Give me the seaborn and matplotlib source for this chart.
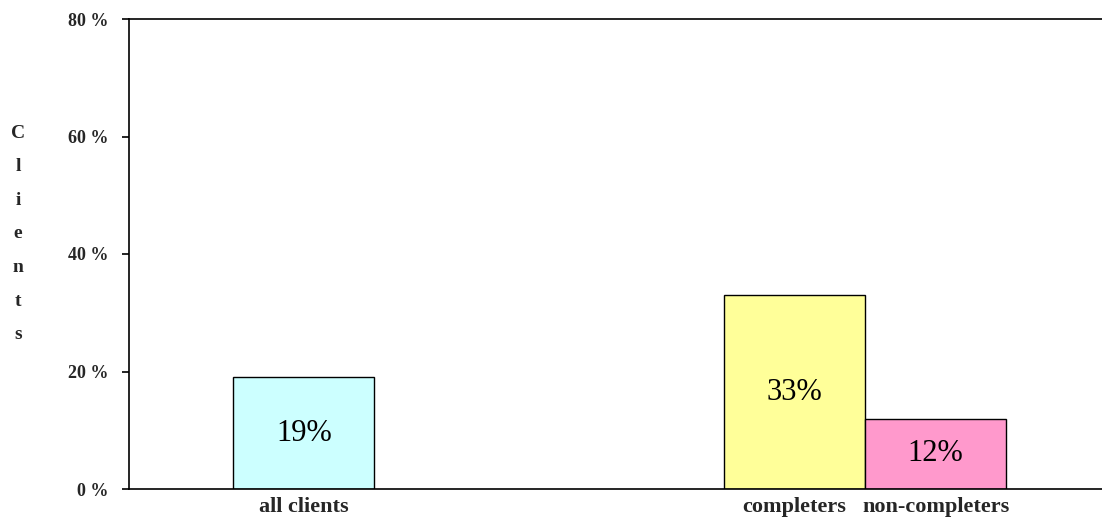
import matplotlib
matplotlib.use("Agg")
import matplotlib.pyplot as plt
import seaborn as sns
import pandas as pd

# Share of clients per group (percent)
categories = ["all clients", "completers", "non-completers"]
values = [19, 33, 12]
bar_colors = ["#CCFFFF", "#FFFF99", "#FF99CC"]
y_ticks = [0, 20, 40, 60, 80]
y_tick_labels = ["0 %", "20 %", "40 %", "60 %", "80 %"]
y_label = "Clients"

# Horizontal placement of the bars (one unit = one bar width)
positions = [1.24, 4.72, 5.72]

sns.set_style("white")
serif = ["Liberation Serif", "DejaVu Serif"]

fig = plt.figure(figsize=(11.02, 5.19), dpi=100)
ax = fig.add_axes([129 / 1102, 1 - 489 / 519, 1 - 129 / 1102, (489 - 19) / 519])

df = pd.DataFrame({"pos": positions, "value": values, "group": categories})
sns.barplot(data=df, x="pos", y="value", hue="group", hue_order=categories,
            palette=bar_colors, native_scale=True, width=1.0, dodge=False,
            edgecolor="black", linewidth=1.0, saturation=1.0, legend=False,
            ax=ax)

ax.set_xlim(0, 6.9)
ax.set_ylim(0, 80)

# Value labels inside the bars
for x, v in zip(positions, values):
    ax.text(x, v / 2, f"{v}%", ha="center", va="center",
            fontsize=22, family=serif, color="black")

# Y axis
ax.set_yticks(y_ticks)
ax.set_yticklabels(y_tick_labels, family=serif, fontweight="bold", fontsize=13)
ax.tick_params(axis="y", which="both", left=True, length=5, width=1.2,
               pad=10, direction="out", color="black")

# X axis category labels under the bars
ax.set_xticks(positions)
ax.set_xticklabels(categories, family=serif, fontweight="bold", fontsize=16)
ax.tick_params(axis="x", bottom=False, pad=2)
ax.set_xlabel("")
ax.set_ylabel("")

for side in ["left", "bottom", "top"]:
    ax.spines[side].set_visible(True)
    ax.spines[side].set_color("black")
    ax.spines[side].set_linewidth(1.2)
ax.spines["right"].set_visible(False)

# Vertical stacked axis title
fig.text(18 / 1102, 1 - 234 / 519, "\n".join(y_label), ha="center", va="center",
         family=serif, fontweight="bold", fontsize=14, linespacing=2.27)

fig.savefig("out.png", dpi=100)
